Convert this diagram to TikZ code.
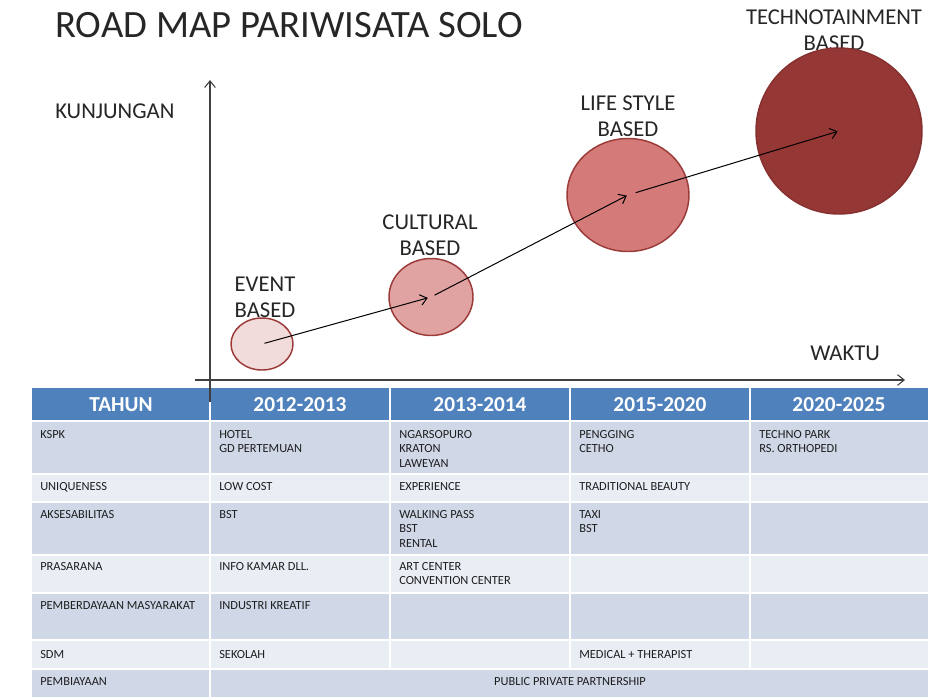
\documentclass[tikz,border=0pt]{standalone}
\usepackage{fontspec}
\setmainfont{Carlito}
\usetikzlibrary{shapes.geometric,arrows.meta}
\definecolor{hdrblue}{HTML}{4F81BD}
\definecolor{banddark}{HTML}{D0D8E8}
\definecolor{bandlight}{HTML}{E9EDF4}
\definecolor{ink}{HTML}{262626}
\definecolor{cellink}{HTML}{1E1E1E}
\definecolor{bubbleA}{HTML}{F2DCDB}
\definecolor{bubbleB}{HTML}{E0A3A2}
\definecolor{bubbleC}{HTML}{D47B79}
\definecolor{bubbleD}{HTML}{953735}
\definecolor{bubbleedge}{HTML}{9B3B39}
\definecolor{axisgray}{HTML}{404040}

\begin{document}
\begin{tikzpicture}[x=0.75pt,y=-0.75pt,
  bubble/.style={ellipse, draw=bubbleedge, line width=1.1pt, inner sep=0pt},
  stage/.style={font=\fontsize{17}{19.5}\selectfont, text=ink, align=center, inner sep=0pt, anchor=north},
  axislabel/.style={font=\fontsize{17}{19.5}\selectfont, text=ink, inner sep=0pt, anchor=north west},
  flow/.style={-{Straight Barb[length=5pt,width=8pt]}, line width=0.75pt, black},
  axisline/.style={-{Straight Barb[length=5pt,width=8pt]}, line width=0.8pt, axisgray},
  hdr/.style={font=\fontsize{16}{19}\selectfont\bfseries, text=white, inner sep=0pt},
  cell/.style={font=\fontsize{9.3}{10.9}\selectfont, text=cellink, align=left, anchor=north west, inner sep=0pt},
  gridline/.style={white, line width=1.5pt}]

\useasboundingbox (0,0) rectangle (928,697);

% ---------- title ----------
\node[font=\fontsize{29}{33}\selectfont, text=ink, inner sep=0pt, anchor=base] (title) at (289,37) {ROAD MAP PARIWISATA SOLO};

% ---------- table ----------
\fill[hdrblue]   (32,388) rectangle (928,420);
\fill[banddark]  (32,420) rectangle (928,474);
\fill[bandlight] (32,474) rectangle (928,502);
\fill[banddark]  (32,502) rectangle (928,555);
\fill[bandlight] (32,555) rectangle (928,593);
\fill[banddark]  (32,593) rectangle (928,640);
\fill[bandlight] (32,640) rectangle (928,669);
\fill[banddark]  (32,669) rectangle (928,697);

\draw[gridline, line width=2pt] (32,421) -- (928,421);
\foreach \yy in {474,502,555,593,640,669}
  \draw[gridline] (32,\yy) -- (928,\yy);
\draw[gridline] (210,388) -- (210,697);
\foreach \xx in {390,570,750}
  \draw[gridline] (\xx,388) -- (\xx,669);

% header
\node[hdr] (h0) at (121,404.5) {TAHUN};
\node[hdr] (h1) at (300,404.5) {2012-2013};
\node[hdr] (h2) at (480,404.5) {2013-2014};
\node[hdr] (h3) at (660,404.5) {2015-2020};
\node[hdr] (h4) at (839,404.5) {2020-2025};

% KSPK
\node[cell] (r1c0) at (40,430) {KSPK};
\node[cell] (r1c1) at (219,430) {HOTEL\\ GD PERTEMUAN};
\node[cell] (r1c2) at (399,430) {NGARSOPURO\\KRATON\\LAWEYAN};
\node[cell] (r1c3) at (579,430) {PENGGING\\CETHO};
\node[cell] (r1c4) at (759,430) {TECHNO PARK\\RS. ORTHOPEDI};
% UNIQUENESS
\node[cell] (r2c0) at (40,482) {UNIQUENESS};
\node[cell] (r2c1) at (219,482) {LOW COST};
\node[cell] (r2c2) at (399,482) {EXPERIENCE};
\node[cell] (r2c3) at (579,482) {TRADITIONAL BEAUTY};
% AKSESABILITAS
\node[cell] (r3c0) at (40,510) {AKSESABILITAS};
\node[cell] (r3c1) at (219,510) {BST};
\node[cell] (r3c2) at (399,510) {WALKING PASS\\BST\\RENTAL};
\node[cell] (r3c3) at (579,510) {TAXI\\BST};
% PRASARANA
\node[cell] (r4c0) at (40,562) {PRASARANA};
\node[cell] (r4c1) at (219,562) {INFO KAMAR DLL.};
\node[cell] (r4c2) at (399,562) {ART CENTER\\CONVENTION CENTER};
% PEMBERDAYAAN MASYARAKAT
\node[cell] (r5c0) at (40,601) {PEMBERDAYAAN MASYARAKAT};
\node[cell] (r5c1) at (219,601) {INDUSTRI KREATIF};
% SDM
\node[cell] (r6c0) at (40,650) {SDM};
\node[cell] (r6c1) at (219,650) {SEKOLAH};
\node[cell] (r6c3) at (579,650) {MEDICAL + THERAPIST};
% PEMBIAYAAN
\node[cell] (r7c0) at (40,677) {PEMBIAYAAN};
\node[cell, anchor=north] (r7c1) at (570,677) {PUBLIC PRIVATE PARTNERSHIP};

% ---------- chart axes ----------
\coordinate (yfoot) at (210,402);
\coordinate (ytop) at (210,80);
\coordinate (xfoot) at (195,380);
\coordinate (xend) at (905,380);
\draw[axisline] (yfoot) -- (ytop);
\draw[axisline] (xfoot) -- (xend);

\node[axislabel] (kunj) at (55,104) {KUNJUNGAN};
\node[axislabel] (waktu) at (810,346) {WAKTU};

% ---------- stage labels ----------
\node[stage] (lblA) at (265,277) {EVENT\\BASED};
\node[stage] (lblB) at (430,215) {CULTURAL\\BASED};
\node[stage] (lblC) at (628,96) {LIFE STYLE\\BASED};
\node[stage] (lblD) at (834,10) {TECHNOTAINMENT\\BASED};

% ---------- stage bubbles ----------
\node[bubble, fill=bubbleA, minimum width=46.5pt, minimum height=39pt] (event) at (262,344) {};
\node[bubble, fill=bubbleB, minimum width=63pt, minimum height=57.75pt] (cultural) at (431,297) {};
\node[bubble, fill=bubbleC, minimum width=91.5pt, minimum height=84.75pt] (life) at (628,195) {};
\node[bubble, fill=bubbleD, draw=bubbleD!90!black, minimum width=124.5pt, minimum height=124.5pt] (techno) at (839,131) {};

% ---------- progression arrows ----------
\draw[flow, shorten <=2pt, shorten >=2.5pt] (event.center) -- (cultural.center);
\draw[flow, shorten <=3pt, shorten >=1pt] (cultural.center) -- (life.center);
\draw[flow, shorten <=6pt, shorten >=1pt] (life.center) -- (techno.center);
\end{tikzpicture}
\end{document}
